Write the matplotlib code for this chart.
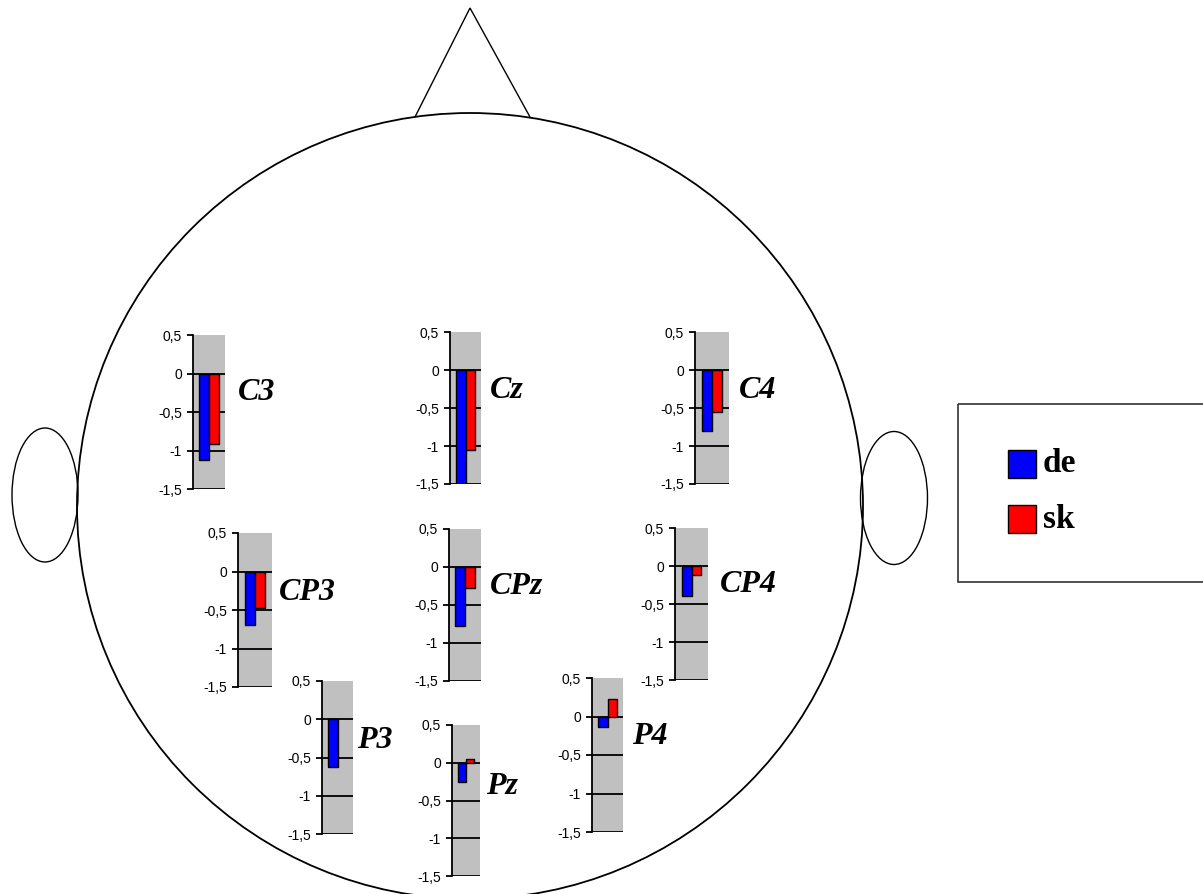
import numpy as np
import matplotlib
matplotlib.use("Agg")
import matplotlib.pyplot as plt
from matplotlib.patches import Circle, Ellipse, Polygon, Rectangle

# electrode data
elektrody = ["C3", "Cz", "C4", "CP3", "CPz", "CP4", "P3", "Pz", "P4"]
wart_de = [-1.12, -1.50, -0.80, -0.70, -0.77, -0.40, -0.63, -0.25, -0.14]
wart_sk = [-0.92, -1.05, -0.55, -0.48, -0.28, -0.12, 0.00, 0.05, 0.23]
ticki = [0.5, 0, -0.5, -1, -1.5]
tick_lab = ["0,5", "0", "-0,5", "-1", "-1,5"]
seria = ["de", "sk"]
kolory = ["#0000ff", "#ff0000"]

W, H = 1203, 894
fig = plt.figure(figsize=(W / 100, H / 100), dpi=100)
ax = fig.add_axes([0, 0, 1, 1])
ax.set_xlim(0, W)
ax.set_ylim(H, 0)
ax.axis("off")

# head outline
ax.add_patch(Circle((470, 506), 393, fill=False, lw=1.3, color="black"))
ax.add_patch(Polygon([(415, 117), (470, 8), (530, 117)], closed=False, fill=False, lw=1.0, color="black"))
ax.add_patch(Ellipse((45, 495), 66, 134, fill=False, lw=1.0, color="black"))
ax.add_patch(Ellipse((894, 498), 67, 133, fill=False, lw=1.0, color="black"))

# inset boxes in pixels: spine x, grey end x, top y (0.5), bottom y (-1.5)
pozycje = [(193, 225, 335, 489), (450, 481, 332, 484), (695, 729, 332, 484),
           (238, 272, 533, 687), (449, 481, 529, 681), (675, 708, 528, 680),
           (322, 353, 681, 834), (452, 480, 725, 876), (592, 623, 678, 832)]
etykiety = [(238, 392), (490, 390), (739, 390), (279, 593), (490, 587),
            (720, 584), (357, 740), (486, 786), (632, 737)]

for i, nazwa in enumerate(elektrody):
    x0, x1, y0, y1 = pozycje[i]
    a = fig.add_axes([x0 / W, 1 - y1 / H, (x1 - x0) / W, (y1 - y0) / H])
    a.set_facecolor("#c0c0c0")
    a.set_xlim(-0.5, 0.5)
    a.set_ylim(-1.5, 0.5)
    for g in [0, -0.5, -1, -1.5]:
        a.axhline(g, color="black", lw=1.3, zorder=1)
    a.bar([-0.15], [wart_de[i]], width=0.3, color=kolory[0], edgecolor="black", lw=1.0, zorder=3)
    if wart_sk[i] != 0:
        a.bar([0.15], [wart_sk[i]], width=0.3, color=kolory[1], edgecolor="black", lw=1.0, zorder=3)
    for s in ["top", "right", "bottom"]:
        a.spines[s].set_visible(False)
    a.spines["left"].set_linewidth(1.3)
    a.set_xticks([])
    a.set_yticks(ticki)
    a.set_yticklabels(tick_lab, fontsize=10, family="Liberation Sans")
    a.tick_params(axis="y", length=4, width=1.3, pad=4)
    ax.text(etykiety[i][0], etykiety[i][1], nazwa, fontsize=23, family="Liberation Serif",
            fontweight="bold", style="italic", va="center", ha="left")

# legend
ax.add_patch(Rectangle((958, 404), 260, 178, fill=False, lw=1.2, color="#333333"))
for k in range(2):
    yk = 450 + k * 55
    ax.add_patch(Rectangle((1008, yk), 28, 28, facecolor=kolory[k], edgecolor="black", lw=1))
    ax.text(1043, yk + 14, seria[k], fontsize=24, family="Liberation Serif",
            fontweight="bold", va="center", ha="left")

fig.savefig("out.png", dpi=100)
